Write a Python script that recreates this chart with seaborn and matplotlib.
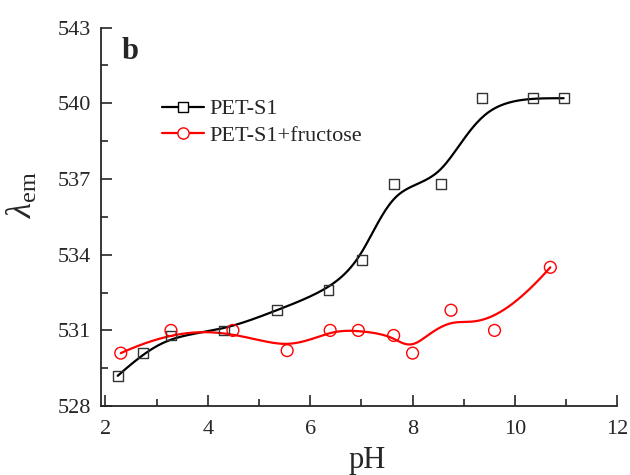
import numpy as np
import pandas as pd
import seaborn as sns
import matplotlib
matplotlib.use("Agg")
import matplotlib.pyplot as plt
from matplotlib.lines import Line2D
from matplotlib.ticker import MultipleLocator

# data
ph_s1 = [2.24, 2.74, 3.28, 4.32, 5.35, 6.36, 7.01, 7.63, 8.56, 9.36, 10.35, 10.95]
lam_s1 = [529.2, 530.1, 530.8, 531.0, 531.8, 532.6, 533.8, 536.8, 536.8, 540.2, 540.2, 540.2]
ph_fru = [2.30, 3.28, 4.49, 5.55, 6.39, 6.94, 7.63, 8.00, 8.75, 9.60, 10.69]
lam_fru = [530.1, 531.0, 531.0, 530.2, 531.0, 531.0, 530.8, 530.1, 531.8, 531.0, 533.5]
labels = ["PET-S1", "PET-S1+fructose"]
xticks = [2, 4, 6, 8, 10, 12]
yticks = [528, 531, 534, 537, 540, 543]


def bspline(xs, ys, k=3, n=400):
    """Clamped uniform B-spline using the data points as control points."""
    P = np.column_stack([xs, ys]).astype(float)
    m = len(P)
    inner = np.linspace(0, 1, m - k + 1)
    t = np.concatenate([np.zeros(k), inner, np.ones(k)])
    u = np.linspace(0, 1 - 1e-9, n)

    def basis(i, p, u):
        if p == 0:
            return ((t[i] <= u) & (u < t[i + 1])).astype(float)
        a = np.zeros_like(u)
        b = np.zeros_like(u)
        if t[i + p] != t[i]:
            a = (u - t[i]) / (t[i + p] - t[i]) * basis(i, p - 1, u)
        if t[i + p + 1] != t[i + 1]:
            b = (t[i + p + 1] - u) / (t[i + p + 1] - t[i + 1]) * basis(i + 1, p - 1, u)
        return a + b

    B = np.column_stack([basis(i, k, u) for i in range(m)])
    C = B @ P
    C = np.vstack([C, P[-1]])
    return C[:, 0], C[:, 1]


sns.set_style("ticks")
plt.rcParams["font.family"] = ["Liberation Serif", "DejaVu Serif"]
plt.rcParams["mathtext.fontset"] = "custom"
plt.rcParams["mathtext.rm"] = "Liberation Serif"
plt.rcParams["mathtext.it"] = "Liberation Serif:italic"

fig = plt.figure(figsize=(6.3, 4.75), dpi=100)
ax = fig.add_axes([0.16, 0.145, 0.82, 0.797])

series = [(ph_s1, lam_s1, "black", "s", 7), (ph_fru, lam_fru, "#ff0000", "o", 8.5)]
handles = []
for (xs, ys, col, mk, ms), lab in zip(series, labels):
    cx, cy = bspline(xs, ys)
    curve = pd.DataFrame({"pH": cx, "lam": cy})
    sns.lineplot(data=curve, x="pH", y="lam", sort=False, color=col, lw=1.6, ax=ax)
    pts = pd.DataFrame({"pH": xs, "lam": ys})
    sns.scatterplot(data=pts, x="pH", y="lam", marker=mk, s=ms ** 2,
                    facecolor="none", edgecolor=col if col != "black" else "#333333",
                    linewidth=1.0, ax=ax, zorder=3)
    handles.append(Line2D([], [], color=col, lw=1.6, marker=mk, markersize=ms * 0.95,
                          markerfacecolor="white", markeredgecolor=col, markeredgewidth=1.0))

ax.set_xlim(1.91, 12)
ax.set_ylim(528, 543)
ax.set_xticks(xticks)
ax.set_yticks(yticks)
ax.xaxis.set_minor_locator(MultipleLocator(1))
ax.yaxis.set_minor_locator(MultipleLocator(1.5))
ax.tick_params(which="both", direction="in", labelsize=16, width=1.2)
ax.tick_params(which="major", length=8, pad=7)
ax.tick_params(which="minor", length=5)
ax.tick_params(axis="x", which="major", pad=10)
for s in ["top", "right"]:
    ax.spines[s].set_visible(False)
for s in ["left", "bottom"]:
    ax.spines[s].set_linewidth(1.3)

ax.set_xlabel("pH", fontsize=22)
ax.xaxis.set_label_coords(0.515, -0.105)
ax.set_ylabel(r"$\lambda_{\mathrm{em}}$", fontsize=25)
ax.yaxis.set_label_coords(-0.118, 0.56)
ax.text(0.04, 0.975, "b", transform=ax.transAxes, fontsize=22, fontweight="bold", va="top")

ax.legend(handles, labels, loc="upper left", bbox_to_anchor=(0.101, 0.835), frameon=False,
          fontsize=16, handlelength=1.9, handletextpad=0.25, labelspacing=0.25,
          borderaxespad=0)

fig.savefig("out.png", dpi=100)
